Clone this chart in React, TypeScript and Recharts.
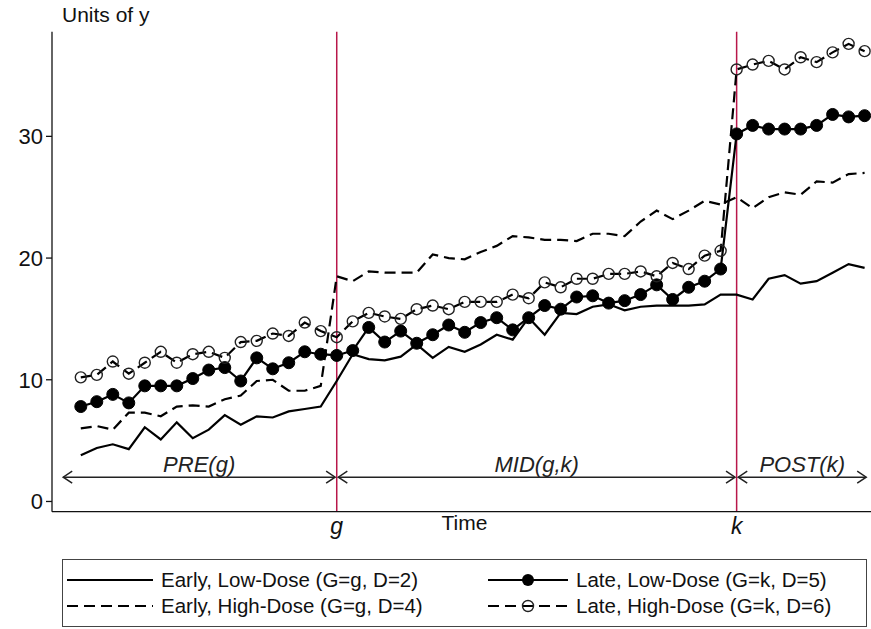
import React from "react";
import { LineChart, Line, XAxis, YAxis, ReferenceLine, Legend } from "recharts";

// time index 0..49, g = 16, k = 41
const time = [
  0, 1, 2, 3, 4, 5, 6, 7, 8, 9, 10, 11, 12, 13, 14, 15, 16, 17, 18, 19, 20, 21, 22, 23, 24,
  25, 26, 27, 28, 29, 30, 31, 32, 33, 34, 35, 36, 37, 38, 39, 40, 41, 42, 43, 44, 45, 46, 47, 48, 49,
];
const G_EARLY = 16;
const G_LATE = 41;

const earlyLow = [
  3.8, 4.4, 4.7, 4.3, 6.1, 5.1, 6.5, 5.2, 5.9, 7.1, 6.3, 7.0, 6.9, 7.4, 7.6, 7.8, 9.9, 12.1, 11.7, 11.6,
  11.9, 12.9, 11.8, 12.7, 12.3, 12.9, 13.7, 13.3, 15.1, 13.7, 15.5, 15.4, 16.0, 16.2, 15.7, 16.0, 16.1, 16.1, 16.1, 16.2,
  17.0, 17.0, 16.6, 18.3, 18.6, 17.9, 18.1, 18.8, 19.5, 19.2,
];
const earlyHigh = [
  6.0, 6.2, 5.9, 7.3, 7.3, 7.0, 7.8, 7.9, 7.8, 8.4, 8.7, 9.9, 10.0, 9.1, 9.1, 9.5, 18.5, 18.1, 18.9, 18.8,
  18.8, 18.8, 20.3, 20.0, 19.9, 20.5, 21.0, 21.8, 21.7, 21.5, 21.5, 21.4, 22.0, 22.0, 21.8, 23.0, 23.9, 23.2, 23.9, 24.7,
  24.4, 25.0, 24.1, 25.0, 25.4, 25.2, 26.3, 26.2, 26.9, 27.0,
];
const lateLow = [
  7.8, 8.2, 8.8, 8.1, 9.5, 9.5, 9.5, 10.1, 10.8, 11.0, 9.9, 11.8, 10.9, 11.4, 12.3, 12.1, 12.0, 12.4, 14.3, 13.1,
  14.0, 13.0, 13.7, 14.5, 13.9, 14.7, 15.1, 14.1, 15.1, 16.1, 15.8, 16.8, 16.9, 16.3, 16.5, 17.0, 17.8, 16.6, 17.6, 18.1,
  19.1, 30.2, 30.9, 30.6, 30.6, 30.6, 30.9, 31.8, 31.6, 31.7,
];
const lateHigh = [
  10.2, 10.4, 11.5, 10.5, 11.4, 12.3, 11.4, 12.1, 12.3, 11.8, 13.1, 13.2, 13.8, 13.6, 14.7, 14.0, 13.5, 14.8, 15.5, 15.2,
  15.0, 15.8, 16.1, 15.8, 16.4, 16.4, 16.4, 17.0, 16.7, 18.0, 17.6, 18.3, 18.3, 18.7, 18.7, 18.9, 18.5, 19.6, 19.1, 20.2,
  20.6, 35.5, 35.9, 36.2, 35.5, 36.5, 36.1, 36.9, 37.6, 37.0,
];

const yTicks = [0, 10, 20, 30];
const legendLabels = [
  "Early, Low-Dose (G=g, D=2)",
  "Late, Low-Dose (G=k, D=5)",
  "Early, High-Dose (G=g, D=4)",
  "Late, High-Dose (G=k, D=6)",
];
const periodLabels = ["PRE(g)", "MID(g,k)", "POST(k)"];

const data = time.map((t, i) => ({
  t,
  earlyLow: earlyLow[i],
  earlyHigh: earlyHigh[i],
  lateLow: lateLow[i],
  lateHigh: lateHigh[i],
}));

const FONT = "'Liberation Sans', Arial, Helvetica, sans-serif";
const DASH = "11 6";
const RED = "#b8174a";

// double-headed arrow with italic label above it
const arrowShape = (label: string) => (p: any) => {
  const { x1, y1, x2 } = p;
  const h = 9;
  const w = 6;
  return (
    <g>
      <line x1={x1} y1={y1} x2={x2} y2={y1} stroke="#222" strokeWidth={1.5} />
      <polyline points={`${x1 + h},${y1 - w} ${x1},${y1} ${x1 + h},${y1 + w}`} fill="none" stroke="#222" strokeWidth={1.5} />
      <polyline points={`${x2 - h},${y1 - w} ${x2},${y1} ${x2 - h},${y1 + w}`} fill="none" stroke="#222" strokeWidth={1.5} />
      <text x={(x1 + x2) / 2} y={y1 - 5} textAnchor="middle" fontStyle="italic" fontSize={22} fill="#222" fontFamily={FONT}>
        {label}
      </text>
    </g>
  );
};

function Sample({ dash, marker, w }: { dash?: string; marker?: "filled" | "open"; w: number }) {
  return (
    <svg width={w} height={14} style={{ position: "absolute", left: 0, top: -7 }}>
      <line x1={0} y1={7} x2={w} y2={7} stroke="#000" strokeWidth={2} strokeDasharray={dash} />
      {marker === "filled" && <circle cx={w / 2} cy={7} r={6} fill="#000" />}
      {marker === "open" && <circle cx={w / 2} cy={7} r={5.5} fill="none" stroke="#222" strokeWidth={1.4} />}
    </svg>
  );
}

function LegendBox() {
  const items = [
    { label: legendLabels[0], left: 4, top: 20, dash: undefined, marker: undefined, w: 86, tx: 94 },
    { label: legendLabels[1], left: 425, top: 20, dash: undefined, marker: "filled" as const, w: 80, tx: 88 },
    { label: legendLabels[2], left: 4, top: 46, dash: DASH, marker: undefined, w: 86, tx: 94 },
    { label: legendLabels[3], left: 425, top: 46, dash: DASH, marker: "open" as const, w: 80, tx: 88 },
  ];
  return (
    <div
      style={{
        width: 805,
        height: 68,
        boxSizing: "border-box",
        border: "1px solid #444",
        position: "relative",
        fontFamily: FONT,
        fontSize: 20.5,
        color: "#111",
        background: "#fff",
      }}
    >
      {items.map((it) => (
        <div key={it.label} style={{ position: "absolute", left: it.left, top: it.top }}>
          <Sample dash={it.dash} marker={it.marker} w={it.w} />
          <span style={{ position: "absolute", left: it.tx, top: -12, whiteSpace: "nowrap", lineHeight: "24px" }}>
            {it.label}
          </span>
        </div>
      ))}
    </div>
  );
}

export default function App() {
  return (
    <div style={{ position: "absolute", left: 0, top: 0, background: "#fff" }}>
      <LineChart
        width={871}
        height={629}
        data={data}
        margin={{ top: 31.7, right: 0, left: 12, bottom: 2 }}
        style={{ fontFamily: FONT }}
      >
        <XAxis
          dataKey="t"
          type="number"
          domain={[-1.8, 49.4]}
          allowDataOverflow
          ticks={[G_EARLY, G_LATE]}
          tickFormatter={(v: number) => (v === G_EARLY ? "g" : "k")}
          tickLine={false}
          tickSize={6}
          tickMargin={0}
          height={47.3}
          axisLine={{ stroke: "#111", strokeWidth: 1.3 }}
          tick={{ fontSize: 23, fontStyle: "italic", fill: "#111", fontFamily: FONT }}
          label={{ value: "Time", position: "insideTop", offset: 3.5, dx: 3, fontSize: 21, fill: "#111", fontFamily: FONT }}
        />
        <YAxis
          type="number"
          domain={[-0.84, 38.6]}
          allowDataOverflow
          ticks={yTicks}
          width={40}
          tickSize={6}
          tickMargin={3}
          axisLine={{ stroke: "#111", strokeWidth: 1.3 }}
          tickLine={{ stroke: "#111", strokeWidth: 1.3 }}
          tick={{ fontSize: 22, fill: "#111", fontFamily: FONT }}
          label={(p: any) => (
            <text x={p.viewBox.x + p.viewBox.width + 10} y={p.viewBox.y - 10} fontSize={21} fill="#111" fontFamily={FONT}>
              Units of y
            </text>
          )}
        />
        <Legend verticalAlign="bottom" wrapperStyle={{ left: 62, bottom: 2 }} content={() => <LegendBox />} />

        <ReferenceLine x={G_EARLY} stroke={RED} strokeWidth={1.5} />
        <ReferenceLine x={G_LATE} stroke={RED} strokeWidth={1.5} />
        <ReferenceLine segment={[{ x: -1.1, y: 2 }, { x: 15.9, y: 2 }]} shape={arrowShape(periodLabels[0])} />
        <ReferenceLine segment={[{ x: 16.1, y: 2 }, { x: 40.9, y: 2 }]} shape={arrowShape(periodLabels[1])} />
        <ReferenceLine segment={[{ x: 41.1, y: 2 }, { x: 49.1, y: 2 }]} shape={arrowShape(periodLabels[2])} />

        <Line dataKey="earlyLow" stroke="#000" strokeWidth={2.2} dot={false} isAnimationActive={false} />
        <Line dataKey="earlyHigh" stroke="#000" strokeWidth={2.2} strokeDasharray={DASH} dot={false} isAnimationActive={false} />
        <Line
          dataKey="lateLow"
          stroke="#000"
          strokeWidth={2.2}
          dot={{ r: 6, fill: "#000", stroke: "#000", strokeWidth: 1 }}
          isAnimationActive={false}
        />
        <Line
          dataKey="lateHigh"
          stroke="#000"
          strokeWidth={2.2}
          strokeDasharray={DASH}
          dot={{ r: 5.5, fill: "none", stroke: "#222", strokeWidth: 1.4, strokeDasharray: "none" }}
          isAnimationActive={false}
        />
      </LineChart>
    </div>
  );
}
